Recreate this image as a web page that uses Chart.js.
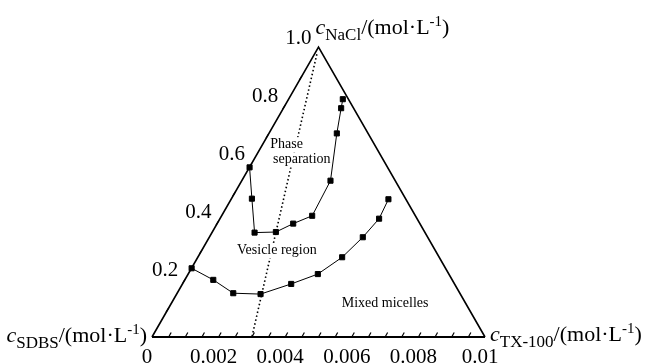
<!DOCTYPE html>
<html><head><meta charset="utf-8">
<script src="https://cdn.jsdelivr.net/npm/chart.js@4.4.1/dist/chart.umd.min.js"></script>
<style>html,body{margin:0;padding:0;background:#fff}canvas{display:block}</style>
</head><body>
<canvas id="c" width="645" height="364"></canvas>
<script>
// ---- data ----
const baseTickValues = [0, 0.002, 0.004, 0.006, 0.008, 0.01];
const baseTickLabels = ['0', '0.002', '0.004', '0.006', '0.008', '0.01'];
const baseMinorTicks = [0.0005, 0.001, 0.0015, 0.002, 0.0025, 0.003, 0.0035, 0.004, 0.0045, 0.005,
                        0.0055, 0.006, 0.0065, 0.007, 0.0075, 0.008, 0.0085, 0.009, 0.0095];
const sideTickValues = [0.2, 0.4, 0.6, 0.8, 1.0];
const sideTickLabels = ['0.2', '0.4', '0.6', '0.8', '1.0'];
const sideMinorTicks = [0.1, 0.2, 0.3, 0.4, 0.5, 0.6, 0.7, 0.8, 0.9];

const upperX = [0.00293, 0.00300, 0.00308, 0.00372, 0.00424, 0.00481, 0.00536, 0.00555, 0.00568, 0.00573];
const upperY = [0.585, 0.477, 0.360, 0.362, 0.391, 0.418, 0.539, 0.702, 0.789, 0.820];
const lowerX = [0.00119, 0.00184, 0.00244, 0.00326, 0.00418, 0.00498, 0.00571, 0.00633, 0.00682, 0.00710];
const lowerY = [0.237, 0.197, 0.151, 0.148, 0.183, 0.217, 0.275, 0.344, 0.408, 0.475];
const dividerX = [0.00495, 0.00300];
const dividerY = [0.975, 0.0];
const triangleX = [0, 0.005, 0.01];
const triangleY = [0, 1, 0];

const regionLabels = [
  {text: 'Phase', x: 0.00404, y: 0.651},
  {text: 'separation', x: 0.00450, y: 0.599},
  {text: 'Vesicle region', x: 0.00375, y: 0.286},
  {text: 'Mixed micelles', x: 0.00700, y: 0.105}
];

const pts = (xs, ys) => xs.map((x, i) => ({x, y: ys[i]}));
const SERIF = '"Liberation Serif", "DejaVu Serif", serif';

function drawRich(ctx, parts, x, y, align) {
  let total = 0;
  parts.forEach(p => { ctx.font = p.font; total += ctx.measureText(p.t).width; });
  let cx = align === 'right' ? x - total : x;
  ctx.textAlign = 'left';
  ctx.textBaseline = 'alphabetic';
  parts.forEach(p => {
    ctx.font = p.font;
    ctx.fillText(p.t, cx, y + p.dy);
    cx += ctx.measureText(p.t).width;
  });
}
function unitTitle(sub) {
  return [
    {t: 'c', font: 'italic 22px ' + SERIF, dy: 0},
    {t: sub, font: '17px ' + SERIF, dy: 5.5},
    {t: '/(mol·L', font: '22px ' + SERIF, dy: 0},
    {t: '-1', font: '15px ' + SERIF, dy: -8},
    {t: ')', font: '22px ' + SERIF, dy: 0}
  ];
}

const decor = {
  id: 'decor',
  afterDatasetDraw(chart, args) {
    if (args.index !== 4) return;
    const ctx = chart.ctx, xs = chart.scales.x, ys = chart.scales.y;
    ctx.save();
    ctx.font = '14px ' + SERIF;
    ctx.textAlign = 'center';
    ctx.textBaseline = 'alphabetic';
    regionLabels.forEach(l => {
      const px = xs.getPixelForValue(l.x), py = ys.getPixelForValue(l.y);
      const w = ctx.measureText(l.text).width;
      ctx.fillStyle = '#fff';
      ctx.fillRect(px - w / 2 - 1, py - 11, w + 2, 15);
      ctx.fillStyle = '#000';
      ctx.fillText(l.text, px, py);
    });
    ctx.restore();
  },
  afterDraw(chart) {
    const ctx = chart.ctx, xs = chart.scales.x, ys = chart.scales.y;
    ctx.save();
    ctx.strokeStyle = '#000';
    ctx.fillStyle = '#000';
    ctx.lineWidth = 1.2;
    const y0 = ys.getPixelForValue(0);
    // base ticks (slanted)
    baseMinorTicks.forEach(v => {
      const px = xs.getPixelForValue(v);
      ctx.beginPath();
      ctx.moveTo(px, y0);
      ctx.lineTo(px + 2.5, y0 - 4.5);
      ctx.stroke();
    });
    // side ticks
    sideMinorTicks.forEach(v => {
      const px = xs.getPixelForValue(v * 0.005), py = ys.getPixelForValue(v);
      ctx.beginPath();
      ctx.moveTo(px, py);
      ctx.lineTo(px - 2.5, py + 4);
      ctx.stroke();
    });
    // base tick labels
    ctx.font = '21px ' + SERIF;
    ctx.textAlign = 'center';
    ctx.textBaseline = 'alphabetic';
    baseTickValues.forEach((v, i) => {
      ctx.fillText(baseTickLabels[i], xs.getPixelForValue(v) - 5, y0 + 26);
    });
    // side tick labels
    ctx.textAlign = 'right';
    sideTickValues.forEach((v, i) => {
      const px = xs.getPixelForValue(v * 0.005), py = ys.getPixelForValue(v);
      ctx.fillText(sideTickLabels[i], px - 7, py - 3);
    });
    // axis titles
    const xl = xs.getPixelForValue(0), xr = xs.getPixelForValue(0.01);
    const xt = xs.getPixelForValue(0.005), yt = ys.getPixelForValue(1);
    drawRich(ctx, unitTitle('SDBS'), xl - 5, y0 + 5, 'right');
    drawRich(ctx, unitTitle('TX-100'), xr + 5, y0 + 4, 'left');
    drawRich(ctx, unitTitle('NaCl'), xt - 3, yt - 13, 'left');
    ctx.restore();
  }
};

const lineDs = (data, extra) => Object.assign({
  data, showLine: true, borderColor: '#000', backgroundColor: '#000',
  pointRadius: 0, borderWidth: 1, clip: false, tension: 0
}, extra);

new Chart(document.getElementById('c'), {
  type: 'scatter',
  data: {
    datasets: [
      lineDs(pts(upperX, upperY), {pointStyle: 'rect', pointRadius: 3.6, borderWidth: 1}),
      lineDs(pts(lowerX, lowerY), {pointStyle: 'rect', pointRadius: 3.6, borderWidth: 1}),
      lineDs(pts(triangleX, triangleY), {borderWidth: 1.6}),
      lineDs(pts([triangleX[0], triangleX[2]], [triangleY[0], triangleY[2]]), {borderWidth: 2}),
      lineDs(pts(dividerX, dividerY), {borderWidth: 1.6, borderDash: [1.5, 2.5]})
    ]
  },
  options: {
    responsive: false,
    animation: false,
    devicePixelRatio: 1,
    layout: {padding: {left: 152, right: 160, top: 47, bottom: 27}},
    plugins: {legend: {display: false}, tooltip: {enabled: false}},
    scales: {
      x: {type: 'linear', min: 0, max: 0.01, display: false},
      y: {type: 'linear', min: 0, max: 1, display: false}
    }
  },
  plugins: [decor]
});
</script>
</body></html>
